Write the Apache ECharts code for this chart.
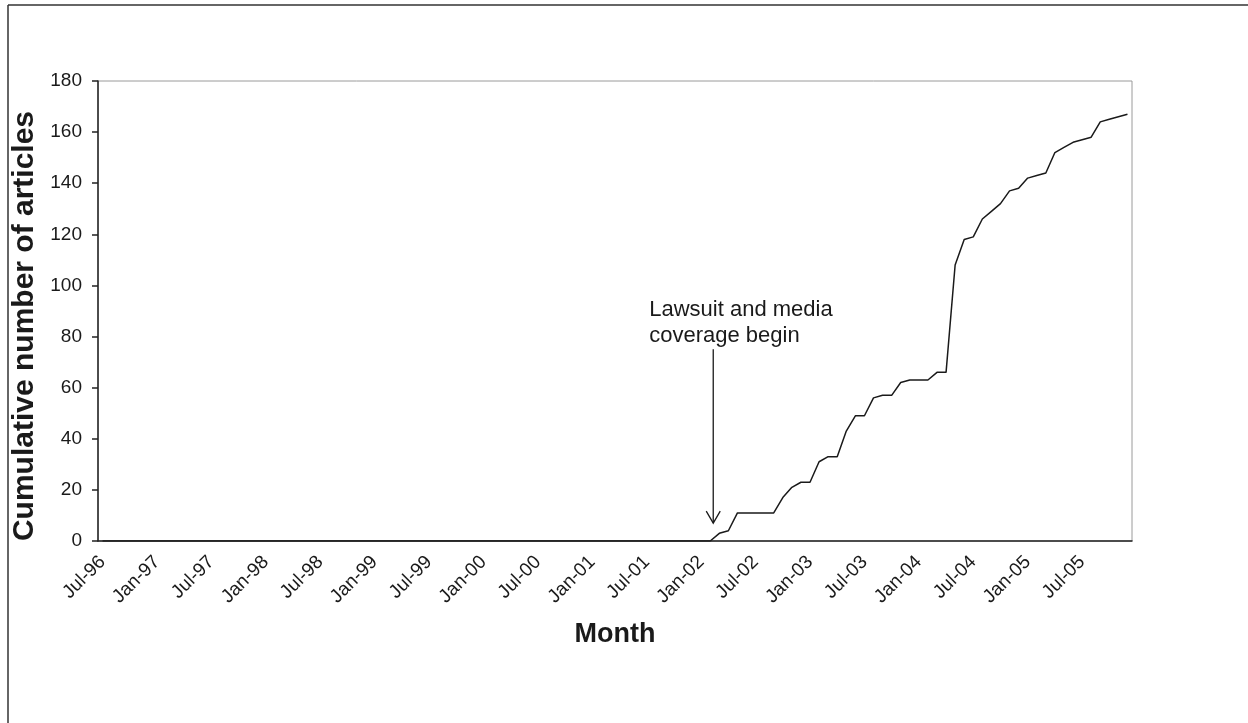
<!DOCTYPE html>
<html>
<head>
<meta charset="utf-8">
<script src="https://cdn.jsdelivr.net/npm/echarts@6/dist/echarts.min.js"></script>
<style>
html,body{margin:0;padding:0;background:#fff;}
#chart{width:1248px;height:723px;}
</style>
</head>
<body>
<div id="chart"></div>
<script>
const categories = [
  'Jul-96','Aug-96','Sep-96','Oct-96','Nov-96','Dec-96',
  'Jan-97','Feb-97','Mar-97','Apr-97','May-97','Jun-97','Jul-97','Aug-97','Sep-97','Oct-97','Nov-97','Dec-97',
  'Jan-98','Feb-98','Mar-98','Apr-98','May-98','Jun-98','Jul-98','Aug-98','Sep-98','Oct-98','Nov-98','Dec-98',
  'Jan-99','Feb-99','Mar-99','Apr-99','May-99','Jun-99','Jul-99','Aug-99','Sep-99','Oct-99','Nov-99','Dec-99',
  'Jan-00','Feb-00','Mar-00','Apr-00','May-00','Jun-00','Jul-00','Aug-00','Sep-00','Oct-00','Nov-00','Dec-00',
  'Jan-01','Feb-01','Mar-01','Apr-01','May-01','Jun-01','Jul-01','Aug-01','Sep-01','Oct-01','Nov-01','Dec-01',
  'Jan-02','Feb-02','Mar-02','Apr-02','May-02','Jun-02','Jul-02','Aug-02','Sep-02','Oct-02','Nov-02','Dec-02',
  'Jan-03','Feb-03','Mar-03','Apr-03','May-03','Jun-03','Jul-03','Aug-03','Sep-03','Oct-03','Nov-03','Dec-03',
  'Jan-04','Feb-04','Mar-04','Apr-04','May-04','Jun-04','Jul-04','Aug-04','Sep-04','Oct-04','Nov-04','Dec-04',
  'Jan-05','Feb-05','Mar-05','Apr-05','May-05','Jun-05','Jul-05','Aug-05','Sep-05','Oct-05','Nov-05','Dec-05'
];
const cumulativeArticles = [
  0,0,0,0,0,0,
  0,0,0,0,0,0,0,0,0,0,0,0,
  0,0,0,0,0,0,0,0,0,0,0,0,
  0,0,0,0,0,0,0,0,0,0,0,0,
  0,0,0,0,0,0,0,0,0,0,0,0,
  0,0,0,0,0,0,0,0,0,0,0,0,
  0,0,3,4,11,11,11,11,11,17,21,23,
  23,31,33,33,43,49,49,56,57,57,62,63,
  63,63,66,66,108,118,119,126,129,132,137,138,
  142,143,144,152,154,156,157,158,164,165,166,167
];
const yTicks = { min: 0, max: 180, interval: 20 };
const annotation = { category: 'Feb-02', top: 75, tip: 7, lines: ['Lawsuit and media', 'coverage begin'] };

const FONT = 'Liberation Sans';
const chart = echarts.init(document.getElementById('chart'));
chart.setOption({
  animation: false,
  backgroundColor: '#fff',
  textStyle: { fontFamily: FONT },
  grid: { left: 98, top: 81, right: 116, bottom: 182, show: true, borderColor: '#9a9a9a', borderWidth: 1 },
  xAxis: {
    type: 'category',
    data: categories,
    boundaryGap: true,
    name: 'Month',
    nameLocation: 'middle',
    nameGap: 80,
    nameTextStyle: { fontSize: 27, fontWeight: 'bold', color: '#1a1a1a', fontFamily: FONT },
    axisLine: { lineStyle: { color: '#222', width: 1.5 } },
    axisTick: { show: false },
    axisLabel: { interval: 5, rotate: 45, fontSize: 19, color: '#1a1a1a', margin: 18, fontFamily: FONT }
  },
  yAxis: {
    type: 'value',
    min: yTicks.min, max: yTicks.max, interval: yTicks.interval,
    name: 'Cumulative number of articles',
    nameLocation: 'middle',
    nameGap: 56,
    nameTextStyle: { fontSize: 30, fontWeight: 'bold', color: '#1a1a1a', fontFamily: FONT, padding: [0, 30, 0, 0] },
    axisLine: { show: true, lineStyle: { color: '#222', width: 1.5 } },
    axisTick: { show: true, inside: false, length: 6, lineStyle: { color: '#222', width: 1.5 } },
    axisLabel: { fontSize: 19, color: '#1a1a1a', margin: 16, fontFamily: FONT },
    splitLine: { show: false }
  },
  series: [{
    type: 'line',
    data: cumulativeArticles,
    symbol: 'none',
    lineStyle: { color: '#1a1a1a', width: 1.5 }
  }]
});

function placeAnnotation() {
  const pTop = chart.convertToPixel({ gridIndex: 0 }, [annotation.category, annotation.top]);
  const pTip = chart.convertToPixel({ gridIndex: 0 }, [annotation.category, annotation.tip]);
  const x = pTop[0] + 3;
  chart.setOption({
    graphic: [
      { type: 'line', shape: { x1: 8, y1: 5, x2: 1248, y2: 5 }, style: { stroke: '#333', lineWidth: 1.5 } },
      { type: 'line', shape: { x1: 8, y1: 5, x2: 8, y2: 723 }, style: { stroke: '#333', lineWidth: 1.5 } },
      { type: 'line', shape: { x1: x, y1: pTop[1], x2: x, y2: pTip[1] }, style: { stroke: '#1a1a1a', lineWidth: 1.3 } },
      { type: 'polyline', shape: { points: [[x - 7, pTip[1] - 12], [x, pTip[1]], [x + 7, pTip[1] - 12]] }, style: { stroke: '#1a1a1a', lineWidth: 1.3, fill: null } },
      { type: 'text', x: x - 64, y: pTop[1] - 52, style: { text: annotation.lines.join('\n'), font: '22px "Liberation Sans"', fill: '#1a1a1a', lineHeight: 26, textVerticalAlign: 'top' } }
    ]
  });
}
placeAnnotation();
</script>
</body>
</html>
